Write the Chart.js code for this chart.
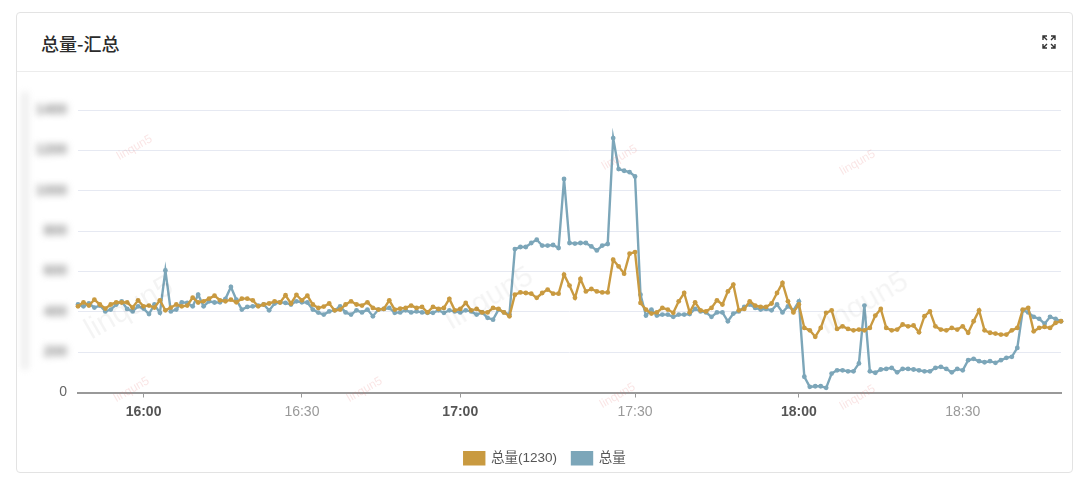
<!DOCTYPE html>
<html>
<head>
  <meta charset="utf-8">
  <title>总量-汇总</title>
  <script src="https://cdn.jsdelivr.net/npm/chart.js"></script>
  <style>
    body { margin: 0; background: #fff; width: 1080px; height: 489px; overflow: hidden;
      font-family: "Helvetica Neue", Arial, "Liberation Sans", "Noto Sans CJK SC", sans-serif; }
    .card { position: absolute; left: 16px; top: 12px; width: 1057px; height: 461px;
      border: 1px solid #e3e3e3; border-radius: 4px; box-sizing: border-box; }
    .head { height: 58px; border-bottom: 1px solid #ececec; position: relative; }
    .title { position: absolute; left: 24px; top: 17px; font-size: 18px; font-weight: 500; color: #2b2b2b;
      font-family: "Noto Sans CJK SC", sans-serif; line-height: 26px; }
    .icon { position: absolute; right: 16px; top: 22px; }
    .box { position: absolute; left: 0; top: 58px; width: 1055px; height: 404px; }
    .wm { position: absolute; transform: rotate(-30deg); pointer-events: none; white-space: nowrap; }
    .wm.s { font-size: 12px; color: rgba(225, 110, 110, 0.18); }
    .wm.b { font-size: 30px; color: rgba(0, 0, 0, 0.045); }
  </style>
</head>
<body>
  <div class="card">
    <div class="head">
      <div class="title">总量-汇总</div>
      <svg class="icon" width="14" height="14" viewBox="0 0 14 14" fill="none" stroke="#333" stroke-width="1.4">
        <path d="M1 5V1h4M1 1l4 4M9 1h4v4M13 1L9 5M1 9v4h4M1 13l4-4M13 9v4H9M13 13L9 9"/>
      </svg>
    </div>
    <div class="box"><canvas id="chart"></canvas></div>
  </div>
  <div class="wm s" style="left:115px;top:140px">linqun5</div>
  <div class="wm s" style="left:600px;top:150px">linqun5</div>
  <div class="wm s" style="left:838px;top:155px">linqun5</div>
  <div class="wm s" style="left:112px;top:382px">linqun5</div>
  <div class="wm s" style="left:345px;top:382px">linqun5</div>
  <div class="wm s" style="left:598px;top:388px">linqun5</div>
  <div class="wm s" style="left:838px;top:390px">linqun5</div>
  <div class="wm b" style="left:80px;top:290px">linqun5</div>
  <div class="wm b" style="left:440px;top:280px">linqun5</div>
  <div class="wm b" style="left:815px;top:285px">linqun5</div>

  <script>
    // x ticks: point index -> time label
    const tickIndex = [12, 41, 70, 102, 132, 162];
    const tickText = ["16:00", "16:30", "17:00", "17:30", "18:00", "18:30"];
    const pointCount = 181;

    // y labels are blurred in the original
    const yLabels = ["1400", "1200", "1000", "800", "600", "400", "200"];

    const seriesA = [427,447,431,460,436,416,436,447,446,447,
      421,457,427,431,421,457,407,421,436,427,
      431,470,446,452,465,480,457,452,460,447,
      465,465,457,427,436,441,452,446,482,441,
      484,457,480,436,419,426,441,407,411,436,
      452,436,431,447,419,411,414,457,411,416,
      419,431,419,424,397,424,414,419,464,407,
      414,444,407,414,397,397,419,414,397,378,
      485,496,493,490,469,493,510,490,490,584,
      530,469,563,501,513,501,496,496,658,625,
      589,688,696,444,411,391,397,419,411,395,
      452,493,397,447,407,402,419,457,436,501,
      535,407,414,452,431,424,424,441,493,543,
      452,397,436,320,308,276,320,395,407,315,
      328,315,308,312,308,320,381,414,320,308,
      312,337,328,332,298,378,402,328,312,308,
      320,312,328,296,353,407,308,296,292,287,
      287,308,320,411,419,303,320,325,320,345,
      353];

    const seriesB = [436,427,441,421,431,402,411,436,452,414,
      402,427,416,389,436,395,605,402,411,447,
      444,427,485,427,452,446,447,464,523,460,
      411,424,427,431,436,407,441,447,444,436,
      452,447,446,411,396,386,402,407,427,397,
      386,407,397,411,378,411,414,419,395,397,
      407,397,402,397,395,395,407,395,407,402,
      397,407,402,386,397,370,361,411,397,386,
      711,721,721,741,757,728,728,731,716,1058,
      741,738,741,741,724,704,728,736,1261,1107,
      1099,1092,1071,485,381,411,381,386,386,375,
      386,386,389,414,402,397,375,397,397,353,
      391,402,424,436,419,411,414,407,436,397,
      427,407,452,78,28,31,31,23,94,110,
      110,105,105,144,431,105,98,114,117,122,
      100,117,117,114,110,105,105,122,127,117,
      100,117,110,160,167,155,150,155,147,160,
      172,177,221,407,397,375,365,341,375,365,
      353];

    const labels = [];
    for (let i = 0; i < pointCount; i++) {
      const k = tickIndex.indexOf(i);
      labels.push(k >= 0 ? tickText[k] : "");
    }

    const ORANGE = "#c99a40";
    const BLUE = "#7ca6b9";
    const FONT = "'Helvetica Neue', Arial, 'Liberation Sans', 'Noto Sans CJK SC', sans-serif";

    // draws the blurred y labels and the faint bar at the left
    const blurLabels = {
      id: "blurLabels",
      afterDraw(chart) {
        const ctx = chart.ctx;
        const y = chart.scales.y;
        ctx.save();
        ctx.filter = "blur(3px)";
        ctx.fillStyle = "#efefef";
        ctx.fillRect(4, y.top - 18, 8, y.bottom - y.top - 5);
        ctx.filter = "blur(3.5px)";
        ctx.fillStyle = "#888";
        ctx.font = "bold 14px " + FONT;
        ctx.textAlign = "right";
        ctx.textBaseline = "middle";
        yLabels.forEach(t => {
          ctx.fillText(t, chart.chartArea.left - 11, y.getPixelForValue(Number(t)));
        });
        ctx.restore();
      }
    };

    const isHour = t => t.endsWith(":00");

    new Chart(document.getElementById("chart"), {
      type: "line",
      data: {
        labels: labels,
        datasets: [
          { label: "总量(1230)", data: seriesA, borderColor: ORANGE, backgroundColor: ORANGE,
            borderWidth: 2.4, pointRadius: 2.4, pointBorderWidth: 0, tension: 0 },
          { label: "总量", data: seriesB, borderColor: BLUE, backgroundColor: BLUE,
            borderWidth: 2.4, pointRadius: 2.4, pointBorderWidth: 0, tension: 0 }
        ]
      },
      options: {
        animation: false,
        responsive: true,
        maintainAspectRatio: false,
        layout: { padding: { top: 39, right: 11, left: 12, bottom: 0 } },
        plugins: {
          tooltip: { enabled: false },
          legend: {
            position: "bottom",
            labels: {
              boxWidth: 20, boxHeight: 12, padding: 15, color: "#555",
              font: { size: 13.5, family: FONT }
            }
          }
        },
        scales: {
          x: {
            offset: false,
            border: { display: true, color: "#999", width: 2 },
            grid: { drawOnChartArea: false, drawTicks: true, tickLength: 5, color: "#999" },
            ticks: {
              autoSkip: false, maxRotation: 0, padding: 6,
              callback: function (v, i) { return labels[i] === "" ? null : labels[i]; },
              color: c => isHour(c.tick.label || "") ? "#555" : "#999",
              font: c => ({ size: 14, family: FONT, weight: isHour(c.tick.label || "") ? "bold" : "normal" })
            },
            afterFit: s => { s.height = 44; }
          },
          y: {
            min: 0, max: 1400,
            border: { display: false },
            grid: { color: "#e6e9f2", drawTicks: false },
            ticks: {
              stepSize: 200, padding: 11, color: "#666",
              font: { size: 14, family: FONT },
              callback: v => v === 0 ? "0" : ""
            },
            afterFit: s => { s.width = 49; }
          }
        }
      },
      plugins: [blurLabels]
    });
  </script>
</body>
</html>
